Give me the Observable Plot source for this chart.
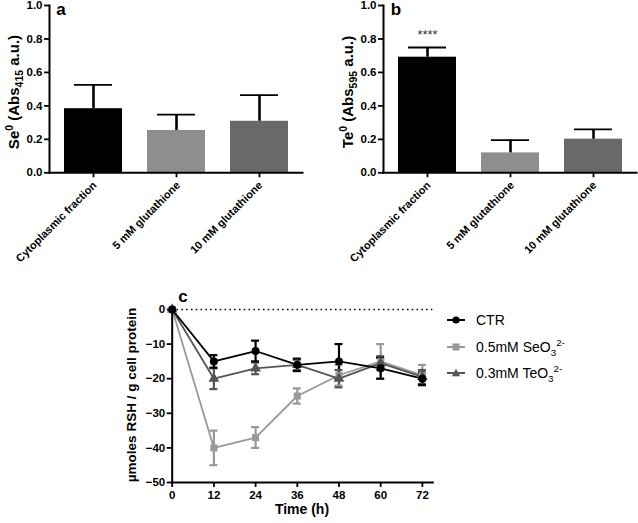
<!DOCTYPE html>
<html>
<head>
<meta charset="utf-8">
<script src="https://cdn.jsdelivr.net/npm/d3@7"></script>
<script src="https://cdn.jsdelivr.net/npm/@observablehq/plot@0.6"></script>
<style>
  html, body { margin: 0; padding: 0; background: #fff; }
  #root { position: relative; width: 638px; height: 523px; overflow: hidden; font-family: "Liberation Sans", Arial, sans-serif; color: #000; }
  .ylab { position: absolute; white-space: nowrap; font-weight: bold; transform: translate(-50%, -50%) rotate(-90deg); }
  .lab { position: absolute; white-space: nowrap; font-weight: bold; transform: translate(-50%, -50%); }
  .leg { position: absolute; left: 447px; font-size: 14px; white-space: nowrap; display: flex; align-items: center; }
  .leg svg { margin-right: 11px; }
  .rot { position: absolute; white-space: nowrap; font-weight: bold; font-size: 11px; line-height: 1; transform-origin: 100% 50%; transform: rotate(-45deg); }
  sub, sup { font-size: 70%; line-height: 0; }
  svg [aria-label$="tick"] { stroke-width: 1.8px; }
</style>
</head>
<body>
<div id="root"></div>
<script>
// ---------- data ----------
const categories = ["Cytoplasmic fraction", "5 mM glutathione", "10 mM glutathione"];
const barColors = ["#000000", "#8e8e8e", "#696969"];
const seMean = [0.383, 0.253, 0.308];
const seErr  = [0.143, 0.095, 0.156];
const teMean = [0.691, 0.119, 0.201];
const teErr  = [0.058, 0.076, 0.058];
const teSig  = ["****", "", ""];
const barTicks = [0, 0.2, 0.4, 0.6, 0.8, 1.0];

const hours = [0, 12, 24, 36, 48, 60, 72];
const seriesNames = ["CTR", "0.5mM SeO3", "0.3mM TeO3"];
const seriesColors = ["#000000", "#999999", "#555555"];
const seriesSymbols = ["circle", "square", "triangle"];
const ctrMean  = [0, -15, -12, -16, -15, -17, -20];
const ctrErr   = [0, 1.8, 3, 1.8, 5, 3, 1.8];
const seo3Mean = [0, -40, -37, -25, -19, -15, -19];
const seo3Err  = [0, 5, 3, 2.2, 3, 5, 3];
const teo3Mean = [0, -20, -17, -16, -20, -15.5, -19.5];
const teo3Err  = [0, 3, 1.7, 1.5, 2.5, 2, 2];
const rshTicks = [-50, -40, -30, -20, -10, 0];

// ---------- helpers ----------
const root = document.getElementById("root");
const FONT = "'Liberation Sans', Arial, sans-serif";

function place(el, left, top) {
  el.style.position = "absolute";
  el.style.left = left + "px";
  el.style.top = top + "px";
  root.appendChild(el);
}
function html(tag, cls, inner, css) {
  const el = document.createElement(tag);
  if (cls) el.className = cls;
  el.innerHTML = inner;
  Object.assign(el.style, css || {});
  root.appendChild(el);
  return el;
}

const BAR_H = 270, BAR_MT = 5, BAR_MB = 97.7;

function barPanel(mean, err, sig, opts) {
  const data = categories.map((c, i) => ({cat: c, v: mean[i], hi: mean[i] + err[i], sig: sig ? sig[i] : ""}));
  const marks = [
    Plot.barY(data, {x: "cat", y: "v", fill: "cat"}),
    Plot.ruleX(data, {x: "cat", y1: "v", y2: "hi", stroke: "#000", strokeWidth: 2.6}),
    Plot.tickY(data, {x: "cat", y: "hi", stroke: "#000", strokeWidth: 2.6, insetLeft: 10, insetRight: 10}),
    Plot.frame({anchor: "left", stroke: "#000", strokeWidth: 2}),
    Plot.frame({anchor: "bottom", stroke: "#000", strokeWidth: 2})
  ];
  if (sig) {
    marks.push(Plot.text(data, {x: "cat", y: "hi", text: "sig", dy: -8, lineAnchor: "bottom", fontSize: 13, fontWeight: "normal", fill: "#333"}));
  }
  const p = Plot.plot({
    width: opts.width, height: BAR_H,
    marginLeft: opts.ml, marginRight: opts.mr, marginTop: BAR_MT, marginBottom: BAR_MB,
    style: {fontFamily: FONT, fontSize: "11.5px", fontWeight: "bold", background: "transparent", overflow: "visible"},
    x: {domain: categories, paddingInner: 0.305, paddingOuter: 0.167, label: null, tickFormat: () => "", tickSize: 5, tickPadding: 3},
    y: {domain: [0, 1], label: null, ticks: barTicks, tickFormat: d3.format(".1f"), tickSize: 5, tickPadding: 2},
    color: {domain: categories, range: barColors},
    marks
  });
  place(p, opts.left, 0);
  // rotated category labels, positioned with the plot's own x scale
  const sx = p.scale("x");
  const axisY = BAR_H - BAR_MB;
  categories.forEach(c => {
    const cx = opts.left + sx.apply(c) + sx.bandwidth / 2;
    html("div", "rot", c, {right: (638 - cx - 2) + "px", top: (axisY + 6) + "px"});
  });
  return p;
}

// ---------- panel a ----------
barPanel(seMean, seErr, null, {width: 318, ml: 49, mr: 16, left: 0});
html("div", "lab", "a", {left: "61px", top: "10px", fontSize: "17px"});
html("div", "ylab", "Se<sup>0</sup> (Abs<sub>415</sub> a.u.)", {left: "13px", top: "92px", fontSize: "15px"});

// ---------- panel b ----------
barPanel(teMean, teErr, teSig, {width: 320, ml: 65, mr: 2, left: 318});
html("div", "lab", "b", {left: "396px", top: "10px", fontSize: "17px"});
html("div", "ylab", "Te<sup>0</sup> (Abs<sub>595</sub> a.u.)", {left: "347px", top: "92px", fontSize: "15px"});

// ---------- panel c ----------
const means = [ctrMean, seo3Mean, teo3Mean];
const errs = [ctrErr, seo3Err, teo3Err];
const long = [];
seriesNames.forEach((s, k) => hours.forEach((h, i) => long.push({
  series: s, x: h, y: means[k][i], lo: means[k][i] - errs[k][i], hi: means[k][i] + errs[k][i], err: errs[k][i]
})));
const withErr = long.filter(d => d.err > 0);
const order = ["0.5mM SeO3", "0.3mM TeO3", "CTR"];
const ordered = order.flatMap(s => long.filter(d => d.series === s));
const orderedErr = order.flatMap(s => withErr.filter(d => d.series === s));
const cap = 1.15;

const pc = Plot.plot({
  width: 360, height: 238,
  marginLeft: 81.7, marginRight: 17.7, marginTop: 24, marginBottom: 41,
  style: {fontFamily: FONT, fontSize: "11.5px", fontWeight: "bold", background: "transparent", overflow: "visible"},
  x: {domain: [0, 75], label: null, ticks: hours, tickSize: 5, tickPadding: 3},
  y: {domain: [-50, 0], label: null, ticks: rshTicks, tickSize: 5, tickPadding: 2},
  color: {domain: seriesNames, range: seriesColors},
  symbol: {domain: seriesNames, range: seriesSymbols},
  marks: [
    Plot.ruleY([0], {stroke: "#000", strokeWidth: 1.6, strokeDasharray: "1.6,3.2"}),
    Plot.line(ordered, {x: "x", y: "y", z: "series", stroke: "series", strokeWidth: 1.8}),
    Plot.link(orderedErr, {x1: "x", x2: "x", y1: "lo", y2: "hi", stroke: "series", strokeWidth: 2.2}),
    Plot.ruleY(orderedErr, {y: "hi", x1: d => d.x - cap, x2: d => d.x + cap, stroke: "series", strokeWidth: 2.2}),
    Plot.ruleY(orderedErr, {y: "lo", x1: d => d.x - cap, x2: d => d.x + cap, stroke: "series", strokeWidth: 2.2}),
    Plot.dot(ordered, {x: "x", y: "y", symbol: "series", fill: "series", stroke: "none", r: 4}),
    Plot.frame({anchor: "left", stroke: "#000", strokeWidth: 2}),
    Plot.frame({anchor: "bottom", stroke: "#000", strokeWidth: 2})
  ]
});
place(pc, 90, 285);
html("div", "lab", "c", {left: "183px", top: "297px", fontSize: "17px"});
html("div", "ylab", "µmoles RSH / g cell protein", {left: "131px", top: "395px", fontSize: "13.5px"});
html("div", "lab", "Time (h)", {left: "302px", top: "509px", fontSize: "14px"});

// ---------- legend ----------
const legendLabels = ["CTR", "0.5mM SeO<sub>3</sub><sup>2-</sup>", "0.3mM TeO<sub>3</sub><sup>2-</sup>"];
const legendTops = [321, 348, 374];
const symSvg = [
  '<circle cx="9" cy="6" r="3.6"/>',
  '<rect x="5.5" y="2.5" width="7" height="7"/>',
  '<path d="M9,1.8 L13.2,9.2 L4.8,9.2 Z"/>'
];
seriesNames.forEach((s, i) => {
  const c = seriesColors[i];
  html("div", "leg",
    `<svg width="18" height="12" viewBox="0 0 18 12"><line x1="0" x2="18" y1="6" y2="6" stroke="${c}" stroke-width="2"/><g fill="${c}">${symSvg[i]}</g></svg><span>${legendLabels[i]}</span>`,
    {top: (legendTops[i] - 9) + "px"});
});
</script>
</body>
</html>
